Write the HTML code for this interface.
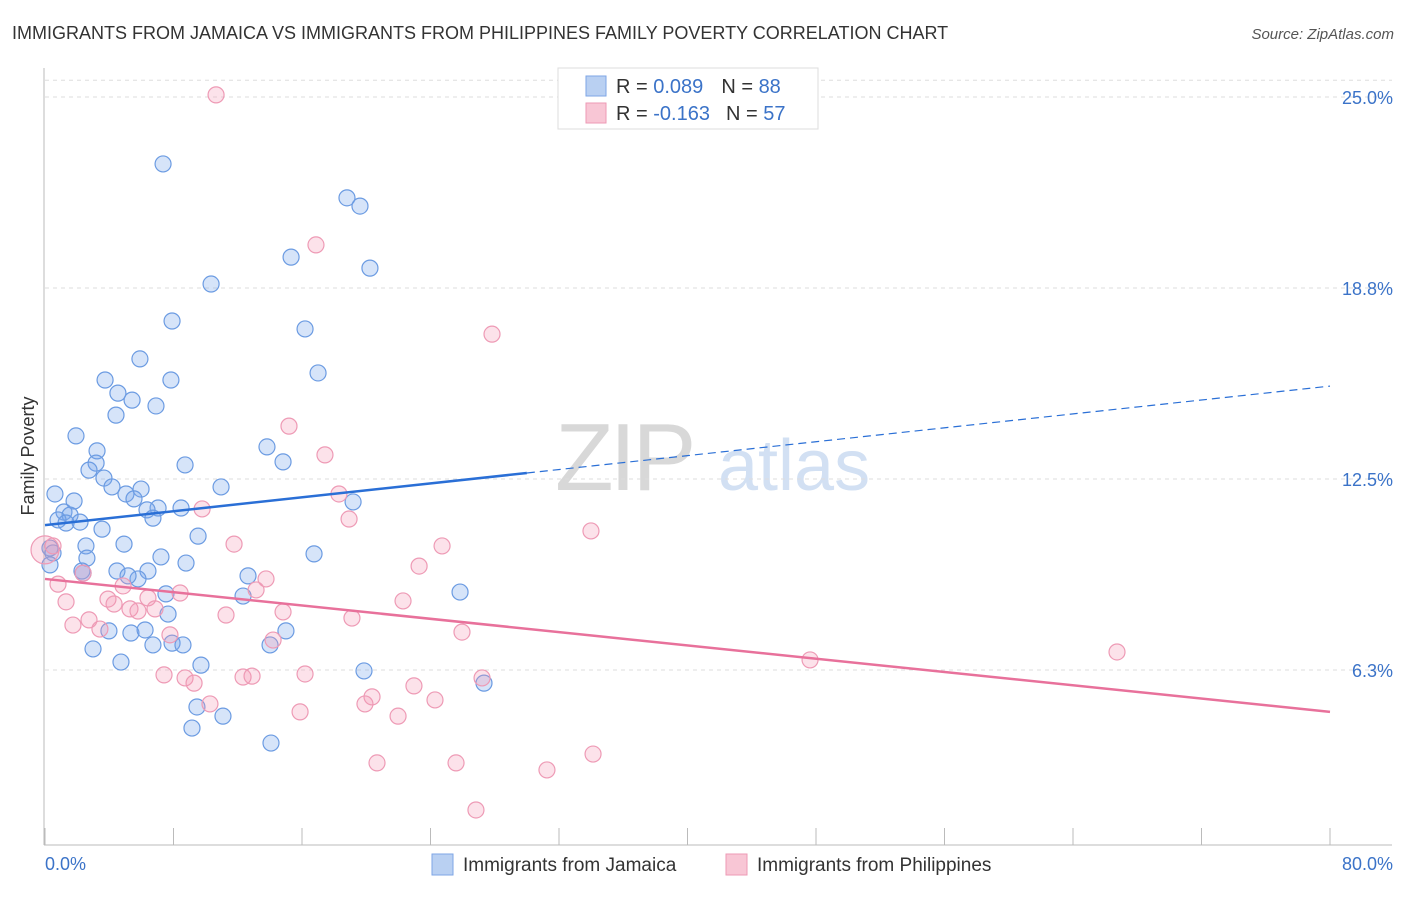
<!DOCTYPE html>
<html><head><meta charset="utf-8"><style>
body{margin:0;background:#fff;font-family:"Liberation Sans",sans-serif;}
svg text{font-family:"Liberation Sans",sans-serif;}
</style></head><body>
<svg id="chart" width="1406" height="892" viewBox="0 0 1406 892" xmlns="http://www.w3.org/2000/svg">
<text x="12" y="39" font-size="18" fill="#333">IMMIGRANTS FROM JAMAICA VS IMMIGRANTS FROM PHILIPPINES FAMILY POVERTY CORRELATION CHART</text>
<text x="1394" y="39" font-size="15" fill="#555" text-anchor="end" font-style="italic">Source: ZipAtlas.com</text>
<g>
<text x="555" y="490" font-size="96" fill="#d8d8d8" font-family="Liberation Serif" letter-spacing="-4">ZIP</text>
<text x="718" y="490" font-size="72" fill="#d2e0f3">atlas</text>
</g>
<g id="grid"></g>
<g id="axes"></g>
<g id="marks"></g>
<text transform="translate(34,456) rotate(-90)" font-size="18" fill="#333" text-anchor="middle">Family Poverty</text>
<g>
<rect x="558" y="68" width="260" height="61" fill="#fff" stroke="#ddd"/>
<rect x="586" y="76" width="20" height="20" fill="#b9d0f2" stroke="#7ea6e6"/>
<rect x="586" y="103" width="20" height="20" fill="#f8c6d5" stroke="#ee9ab5"/>
<text x="616" y="93" font-size="20" fill="#333">R = <tspan fill="#3b73c8">0.089</tspan><tspan dx="18">N = </tspan><tspan fill="#3b73c8">88</tspan></text>
<text x="616" y="120" font-size="20" fill="#333">R = <tspan fill="#3b73c8">-0.163</tspan><tspan dx="16">N = </tspan><tspan fill="#3b73c8">57</tspan></text>
</g>
<g>
<rect x="432" y="854" width="21" height="21" fill="#b9d0f2" stroke="#7ea6e6"/>
<text x="463" y="871" font-size="19" fill="#333">Immigrants from Jamaica</text>
<rect x="726" y="854" width="21" height="21" fill="#f8c6d5" stroke="#ee9ab5"/>
<text x="757" y="871" font-size="19" fill="#333">Immigrants from Philippines</text>
</g>
</svg>
<script>
const yTicks=[6.25,12.5,18.75,25];
const yTickLabels=["6.3%","12.5%","18.8%","25.0%"];
const xTicks=[0,8,16,24,32,40,48,56,64,72,80];
const xEndLabels=["0.0%","80.0%"];
const jamX=[7.35,18.8,19.61,15.32,20.23,10.34,7.91,16.19,5.91,17.0,3.74,7.84,4.54,5.42,6.91,4.42,1.93,13.82,3.24,3.18,8.72,2.74,14.82,3.67,0.62,4.17,5.98,5.04,10.96,1.81,5.54,7.04,8.47,6.35,6.72,1.18,1.56,2.18,0.81,1.31,3.55,19.18,9.53,0.31,2.55,4.92,0.5,7.22,8.78,16.75,2.61,0.31,4.48,2.3,6.41,5.79,5.17,12.64,2.37,7.53,12.33,25.84,7.66,3.98,5.35,6.23,15.0,7.91,6.72,8.59,14.01,2.99,9.71,4.73,19.86,27.33,9.46,11.08,9.15,14.07];
const jamY=[22.81,21.7,21.43,19.76,19.4,18.88,17.67,17.41,16.43,15.97,15.74,15.74,15.31,15.08,14.89,14.59,13.91,13.55,13.42,13.02,12.96,12.79,13.06,12.53,12.01,12.24,12.17,12.01,12.24,11.78,11.85,11.55,11.55,11.49,11.22,11.42,11.32,11.09,11.16,11.06,10.86,11.75,10.63,10.24,10.31,10.37,10.08,9.95,9.75,10.05,9.91,9.69,9.49,9.49,9.49,9.23,9.33,9.33,9.42,8.74,8.67,8.8,8.08,7.53,7.46,7.56,7.53,7.13,7.07,7.07,7.07,6.94,6.41,6.51,6.22,5.82,5.04,4.74,4.35,3.86];
const phiX=[10.65,16.87,27.83,15.19,17.43,18.3,9.78,18.93,33.99,11.77,24.72,0.5,0.0,23.29,2.37,13.76,0.81,8.41,13.14,4.86,6.41,3.92,1.31,22.29,4.3,5.29,6.85,5.79,11.27,14.82,19.11,2.74,1.74,3.42,25.96,7.78,14.2,47.63,66.74,7.41,8.72,12.33,12.89,16.19,9.28,27.21,22.97,20.36,19.92,24.28,10.27,15.88,21.98,20.67,25.59,34.12,31.25,26.83];
const phiY=[25.07,20.16,17.24,14.23,13.29,12.01,11.52,11.19,10.8,10.37,10.31,10.31,10.18,9.65,9.42,9.23,9.06,8.77,8.87,9.0,8.61,8.57,8.48,8.51,8.41,8.25,8.25,8.18,8.05,8.15,7.95,7.89,7.72,7.59,7.49,7.4,7.23,6.58,6.84,6.09,5.99,6.02,6.05,6.12,5.82,5.99,5.73,5.37,5.14,5.27,5.14,4.88,4.74,3.21,3.21,3.5,2.98,1.67];
const jamTrend=[10.99,15.54]; const jamSolidEnd=30;
const phiTrend=[9.23,4.88];

const NS="http://www.w3.org/2000/svg";
const X=v=>45+v*1285/80;
const Y=v=>861-v*30.56;
function mk(tag,attrs,parent){const e=document.createElementNS(NS,tag);for(const k in attrs)e.setAttribute(k,attrs[k]);parent.appendChild(e);return e;}
const grid=document.getElementById('grid'),axes=document.getElementById('axes'),marks=document.getElementById('marks');
[...yTicks,25.55].forEach((t,i)=>{
  const l=mk('line',{x1:45,x2:1392,y1:Y(t),y2:Y(t),stroke:'#ddd','stroke-dasharray':'4,4'},grid);
  
  
});
yTicks.forEach((t,i)=>{
  const tx=mk('text',{x:1393,y:Y(t)+7,'font-size':18,fill:'#3b73c8','text-anchor':'end'},axes);
  tx.textContent=yTickLabels[i];
  
  
});
const ya=mk('line',{x1:44,x2:44,y1:68,y2:845,stroke:'#bbb'},axes);


const xa=mk('line',{x1:44,x2:1392,y1:845,y2:845,stroke:'#bbb'},axes);


xTicks.forEach(t=>{
  const l=mk('line',{x1:X(t),x2:X(t),y1:828,y2:845,stroke:'#bbb'},axes);
  
  
});
const xl0=mk('text',{x:45,y:870,'font-size':18,fill:'#3b73c8'},axes);xl0.textContent=xEndLabels[0];


const xl1=mk('text',{x:1393,y:870,'font-size':18,fill:'#3b73c8','text-anchor':'end'},axes);xl1.textContent=xEndLabels[1];


jamX.forEach((v,i)=>{
  const c=mk('circle',{cx:X(v),cy:Y(jamY[i]),r:8,fill:'rgba(120,165,235,0.3)',stroke:'#6b9be2','stroke-width':1.2},marks);
  
  
});
phiX.forEach((v,i)=>{
  const c=mk('circle',{cx:X(v),cy:Y(phiY[i]),r:(i===12?14:8),fill:'rgba(245,150,180,0.28)',stroke:'#ee9ab5','stroke-width':1.2},marks);
  
  
});
const jy=x=>jamTrend[0]+(jamTrend[1]-jamTrend[0])*x/80;
const t1=mk('line',{x1:X(0),y1:Y(jy(0)),x2:X(jamSolidEnd),y2:Y(jy(jamSolidEnd)),stroke:'#2a6fd6','stroke-width':2.5},marks);


const t2=mk('line',{x1:X(jamSolidEnd),y1:Y(jy(jamSolidEnd)),x2:X(80),y2:Y(jy(80)),stroke:'#2a6fd6','stroke-width':1.2,'stroke-dasharray':'8,5'},marks);


const t3=mk('line',{x1:X(0),y1:Y(phiTrend[0]),x2:X(80),y2:Y(phiTrend[1]),stroke:'#e8719b','stroke-width':2.5},marks);


</script>
</body></html>
